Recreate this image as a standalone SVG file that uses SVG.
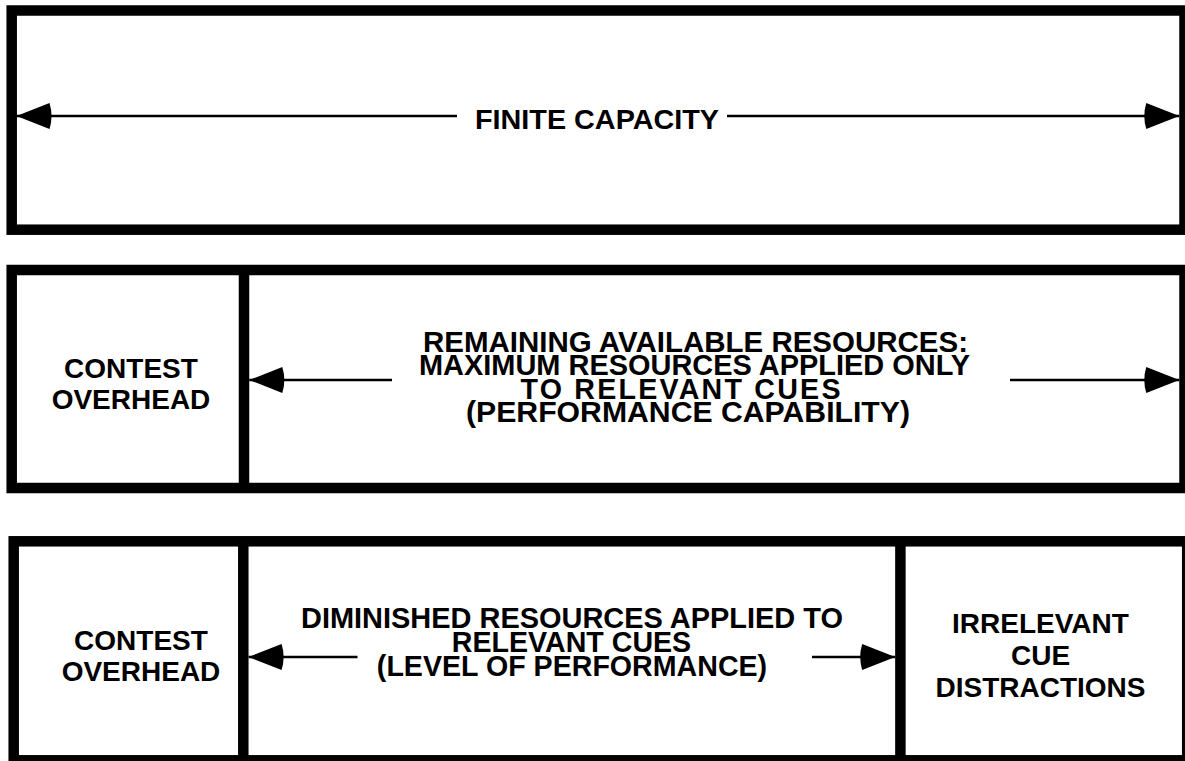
<svg xmlns="http://www.w3.org/2000/svg" width="1185" height="761" viewBox="0 0 1185 761">
<style>
.box{fill:#fff;stroke:#000;stroke-width:10.5}
.div{stroke:#000;stroke-width:10.5}
.t{font-family:"Liberation Sans",Arial,sans-serif;font-weight:bold;font-size:28px;fill:#000;text-anchor:middle}
.m{font-size:28.6px}
.c{stroke:#000;stroke-width:2.6;fill:none;marker-end:url(#ah)}
</style>
<defs>
<marker id="ah" markerUnits="userSpaceOnUse" markerWidth="40" markerHeight="30" viewBox="-36 -15 38 30" refX="0" refY="0" orient="auto" overflow="visible">
<path d="M0,0 L-33,-13 Q-37,0 -33,13 Z" fill="#000"/>
</marker>
</defs>
<rect width="1185" height="761" fill="#fff"/>
<g id="finite-capacity">
<rect class="box" x="11.7" y="10.5" width="1172.8" height="219.2"/>
<text class="t" x="597" y="129" textLength="244" lengthAdjust="spacingAndGlyphs">FINITE CAPACITY</text>
</g>
<g id="row2">
<rect class="box" x="11.7" y="270" width="1172.8" height="218"/>
<line class="div" x1="244" y1="270" x2="244" y2="488"/>
</g>
<g id="contest-overhead-1">
<text class="t" x="131" y="378">CONTEST</text>
<text class="t" x="131" y="409">OVERHEAD</text>
</g>
<g id="remaining-resources">
<text class="t m" x="695.5" y="351.5" textLength="545" lengthAdjust="spacingAndGlyphs">REMAINING AVAILABLE RESOURCES:</text>
<text class="t m" x="694.5" y="375.3" textLength="551" lengthAdjust="spacingAndGlyphs">MAXIMUM RESOURCES APPLIED ONLY</text>
<text class="t m" x="680.5" y="398.5" textLength="320" lengthAdjust="spacing">TO RELEVANT CUES</text>
<text class="t m" x="688" y="422" textLength="444" lengthAdjust="spacingAndGlyphs">(PERFORMANCE CAPABILITY)</text>
</g>
<g id="row3">
<rect class="box" x="13.7" y="541.3" width="1173.5" height="219"/>
<line class="div" x1="243.3" y1="541.3" x2="243.3" y2="760"/>
<line class="div" x1="900.4" y1="541.3" x2="900.4" y2="760"/>
</g>
<g id="contest-overhead-2">
<text class="t" x="141" y="650">CONTEST</text>
<text class="t" x="141" y="681">OVERHEAD</text>
</g>
<g id="diminished-resources">
<text class="t m" x="572" y="628" textLength="542" lengthAdjust="spacingAndGlyphs">DIMINISHED RESOURCES APPLIED TO</text>
<text class="t m" x="571.5" y="652">RELEVANT CUES</text>
<text class="t m" x="572" y="676">(LEVEL OF PERFORMANCE)</text>
</g>
<g id="irrelevant-cues">
<text class="t" x="1040.5" y="633.3">IRRELEVANT</text>
<text class="t" x="1040.5" y="665.3">CUE</text>
<text class="t" x="1040.5" y="696.7">DISTRACTIONS</text>
</g>
<g id="connectors">
<line class="c" x1="457" y1="116" x2="16.5" y2="116"/>
<line class="c" x1="727" y1="116" x2="1179.3" y2="116"/>
<line class="c" x1="392" y1="380" x2="249.3" y2="380"/>
<line class="c" x1="1010" y1="380" x2="1179.3" y2="380"/>
<line class="c" x1="357.5" y1="657" x2="248.6" y2="657"/>
<line class="c" x1="812" y1="657" x2="895.2" y2="657"/>
</g>
</svg>
